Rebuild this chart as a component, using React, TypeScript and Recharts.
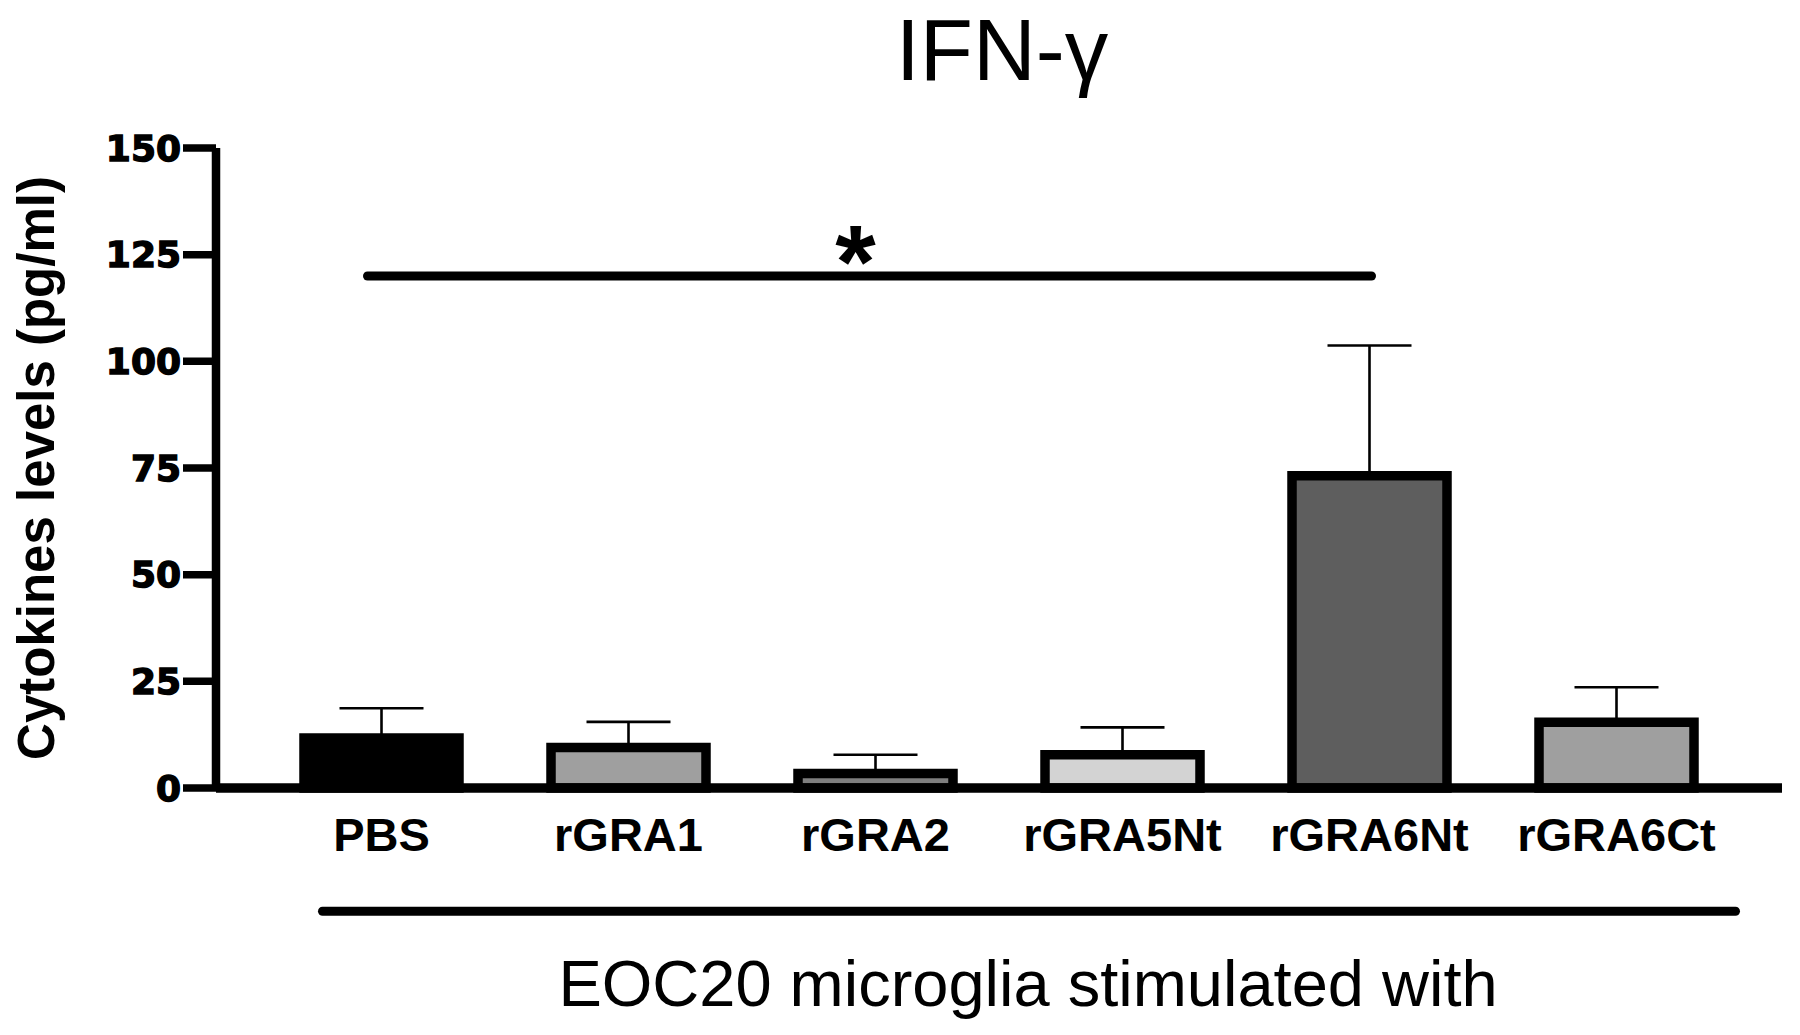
import { Bar, BarChart, Cell, ErrorBar, ReferenceLine, XAxis, YAxis } from 'recharts';

const categories = ['PBS', 'rGRA1', 'rGRA2', 'rGRA5Nt', 'rGRA6Nt', 'rGRA6Ct'];
const means = [11.7, 9.5, 3.4, 7.8, 73.2, 15.4];
const sds = [7.0, 6.0, 4.4, 6.4, 30.5, 8.2];
const fills = ['#000000', '#9f9f9f', '#7f7f7f', '#d3d3d3', '#5e5e5e', '#9f9f9f'];
const yTicks = [0, 25, 50, 75, 100, 125, 150];
const sigPair = ['PBS', 'rGRA6Nt'];
const sigLevel = 120;

const data = categories.map((name, i) => ({ name, mean: means[i], err: [0, sds[i]] }));

const sans = '"Liberation Sans", Arial, sans-serif';

// significance bar: sits a little further left than the PBS centre
const SigLine = (p: any) => (
  <line x1={p.x1 - 14} y1={p.y1} x2={p.x2 + 2} y2={p.y2} stroke="#000" strokeWidth={9} strokeLinecap="round" />
);

export default function App() {
  return (
    <div style={{ position: 'absolute', left: 0, top: 0, width: 1800, height: 1035, background: '#fff' }}>
      <BarChart
        width={1800}
        height={1035}
        data={data}
        margin={{ top: 148, right: 18, left: 0, bottom: 187 }}
      >
        <XAxis
          dataKey="name"
          height={60}
          padding={{ left: 42, right: 42 }}
          axisLine={{ stroke: '#000', strokeWidth: 9.5 }}
          tickLine={false}
          tickSize={0}
          tickMargin={30}
          tick={{ fontFamily: sans, fontWeight: 700, fontSize: 47, fill: '#000' }}
          interval={0}
        />
        <YAxis
          width={216}
          domain={[0, 150]}
          ticks={yTicks}
          interval={0}
          axisLine={{ stroke: '#000', strokeWidth: 8.5 }}
          tickLine={{ stroke: '#000', strokeWidth: 7.5 }}
          tickSize={33}
          tickMargin={2}
          tick={{
            fontFamily: '"DejaVu Sans", sans-serif',
            fontWeight: 700,
            fontSize: 36,
            fill: '#000',
            stroke: '#000',
            strokeWidth: 1.4,
          }}
        />
        <Bar dataKey="mean" barSize={155} stroke="#000" strokeWidth={9.5} isAnimationActive={false}>
          {data.map((d, i) => (
            <Cell key={d.name} fill={fills[i]} />
          ))}
          <ErrorBar dataKey="err" direction="y" width={42} stroke="#000" strokeWidth={2.6} />
        </Bar>
        <ReferenceLine
          segment={[
            { x: sigPair[0], y: sigLevel },
            { x: sigPair[1], y: sigLevel },
          ]}
          shape={SigLine}
          label={{ value: '*', position: 'top', dx: -20, dy: 27, fontFamily: sans, fontWeight: 700, fontSize: 104, fill: '#000' }}
        />
      </BarChart>
      <svg
        width={1800}
        height={1035}
        style={{ position: 'absolute', left: 0, top: 0, pointerEvents: 'none' }}
      >
        <text x={1002} y={80} textAnchor="middle" fontFamily={sans} fontSize={87} fill="#000">
          IFN-γ
        </text>
        <text
          x={54}
          y={468}
          transform="rotate(-90, 54, 468)"
          textAnchor="middle"
          fontFamily={sans}
          fontWeight={700}
          fontSize={51}
          fill="#000"
        >
          Cytokines levels (pg/ml)
        </text>
        <line x1={322.5} y1={911.3} x2={1735.5} y2={911.3} stroke="#000" strokeWidth={9} strokeLinecap="round" />
        <text x={1028} y={1006} textAnchor="middle" fontFamily={sans} fontSize={65} fill="#000">
          EOC20 microglia stimulated with
        </text>
      </svg>
    </div>
  );
}
